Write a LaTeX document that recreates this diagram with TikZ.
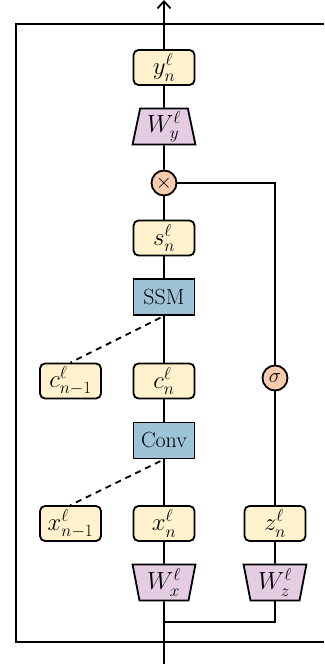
\documentclass[tikz,border=0pt]{standalone}
\usetikzlibrary{shapes.geometric,arrows.meta}
\definecolor{statefill}{HTML}{FFF2CC}
\definecolor{projfill}{HTML}{E4CCE3}
\definecolor{opfill}{HTML}{9DC3D6}
\definecolor{gatefill}{HTML}{F8CBAD}
\begin{document}
\begin{tikzpicture}[x=1bp,y=-1bp,
  line width=1.8bp,
  font=\fontsize{22}{26}\selectfont,
  mathtext/.style={font=\fontsize{23}{26}\selectfont},
  statebox/.style={draw, rounded corners=5bp, fill=statefill, minimum width=61bp, minimum height=35bp, inner sep=0pt, mathtext},
  opbox/.style={draw, fill=opfill, minimum width=61bp, minimum height=36bp, inner sep=0pt},
  projup/.style={draw, fill=projfill, trapezium, trapezium stretches=true, trapezium angle=80, minimum width=63bp, minimum height=36bp, inner sep=0pt, mathtext},
  projdown/.style={projup, shape border rotate=180},
  gate/.style={draw, circle, fill=gatefill, minimum size=25bp, inner sep=0pt},
  skip/.style={dash pattern=on 6bp off 5bp, dash phase=7bp}
]
\useasboundingbox (0,0) rectangle (324,664);

% outer block frame (open towards the right)
\draw (324,24) -- (16,24) -- (16,642) -- (324,642);

% main path
\node[statebox] (y) at (164,67.5) {$y_n^\ell$};
\node[projup] (Wy) at (164,126.5) {$W_y^\ell$};
\node[gate] (mul) at (164,183) {$\times$};
\node[statebox] (s) at (164,238) {$s_n^\ell$};
\node[opbox] (ssm) at (164,297) {SSM};
\node[statebox] (cprev) at (70.5,381) {$c_{n-1}^\ell$};
\node[statebox] (c) at (164,381) {$c_n^\ell$};
\node[opbox] (conv) at (164,440.5) {Conv};
\node[statebox] (xprev) at (70.5,523.5) {$x_{n-1}^\ell$};
\node[statebox] (x) at (164,523.5) {$x_n^\ell$};
\node[projdown] (Wx) at (164,582.5) {$W_x^\ell$};

% gate branch
\node[gate] (sig) at (275,378) {$\sigma$};
\node[statebox] (z) at (275,523.5) {$z_n^\ell$};
\node[projdown] (Wz) at (275,582.5) {$W_z^\ell$};

\coordinate (out) at (164,0);
\coordinate (in) at (164,664);
\coordinate (split) at (164,622);

\draw[-{Straight Barb[length=7bp,width=13bp]}] (y.north) -- (out);
\draw (y) -- (Wy);
\draw (Wy) -- (mul);
\draw (mul) -- (s);
\draw (s) -- (ssm);
\draw (ssm) -- (c);
\draw (c) -- (conv);
\draw (conv) -- (x);
\draw (x) -- (Wx);
\draw (Wx.south) -- (in);

\draw (mul.east) -| (sig.north);
\draw (sig) -- (z);
\draw (z) -- (Wz);
\draw (Wz.south) |- (split);

\draw[skip] (ssm.south) -- (cprev.north);
\draw[skip] (conv.south) -- (xprev.north);
\end{tikzpicture}
\end{document}
